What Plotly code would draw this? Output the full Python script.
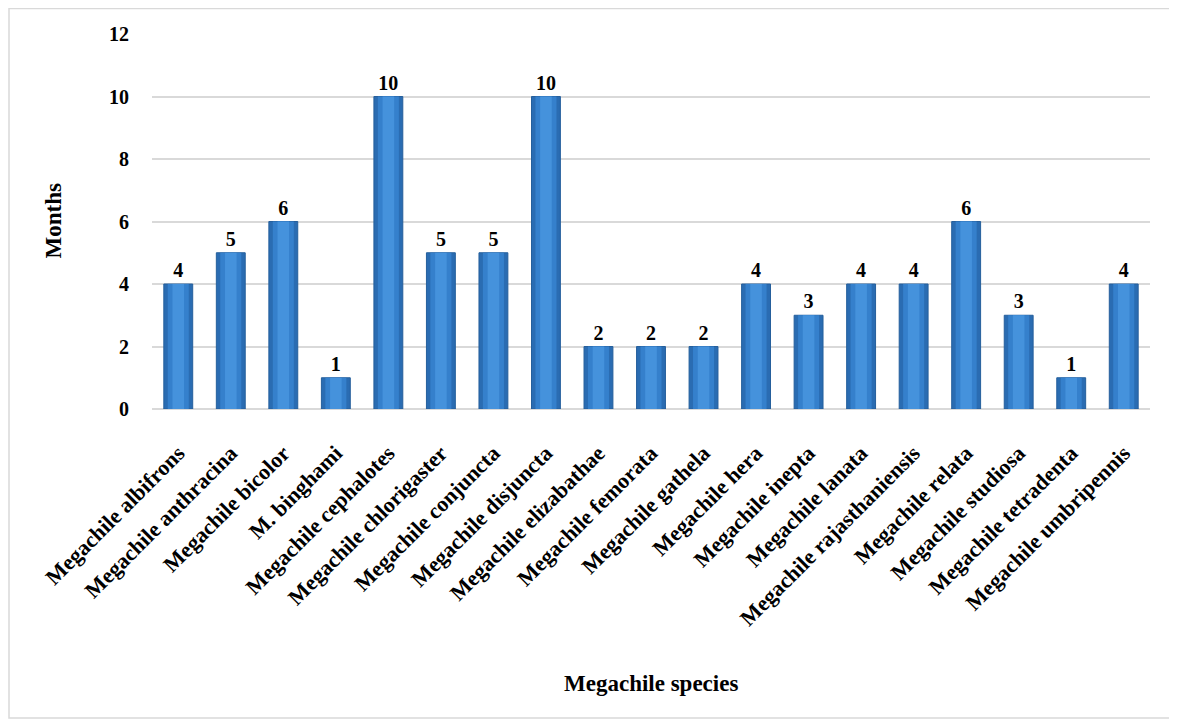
import plotly.graph_objects as go

species = ["Megachile albifrons", "Megachile anthracina", "Megachile bicolor", "M. binghami",
           "Megachile cephalotes", "Megachile chlorigaster", "Megachile conjuncta", "Megachile disjuncta",
           "Megachile elizabathae", "Megachile femorata", "Megachile gathela", "Megachile hera",
           "Megachile inepta", "Megachile lanata", "Megachile rajasthaniensis", "Megachile relata",
           "Megachile studiosa", "Megachile tetradenta", "Megachile umbripennis"]
months = [4, 5, 6, 1, 10, 5, 5, 10, 2, 2, 2, 4, 3, 4, 4, 6, 3, 1, 4]

font_family = "Liberation Serif, Times New Roman, serif"

L, R, T, B = 144, 35, 26, 323
PW, PH = 1177 - L - R, 724 - T - B

fig = go.Figure()
# base cylinder body
fig.add_trace(go.Bar(x=species, y=months, width=0.55,
                     marker=dict(color="#2a6cb2", line=dict(color="#255f9c", width=1)),
                     text=[f"<b>{v}</b>" for v in months], textposition="outside",
                     textfont=dict(family=font_family, size=20, color="#000"),
                     cliponaxis=False, hoverinfo="skip"))
# highlight layers for a cylinder look
fig.add_trace(go.Bar(x=species, y=months, width=0.40,
                     marker=dict(color="#3580cc", line=dict(width=0)), hoverinfo="skip"))
fig.add_trace(go.Bar(x=species, y=months, width=0.22,
                     marker=dict(color="#4592dc", line=dict(width=0)), hoverinfo="skip"))

fig.update_layout(
    width=1177, height=724,
    barmode="overlay",
    showlegend=False,
    plot_bgcolor="white", paper_bgcolor="white",
    margin=dict(l=L, r=R, t=T, b=B, autoexpand=False),
    font=dict(family=font_family, color="#000"),
    shapes=[dict(type="rect", xref="paper", yref="paper",
                 x0=(1 - L) / PW, x1=(1165 - L) / PW,
                 y0=((724 - B) - 710) / PH, y1=((724 - B) - 0.5) / PH,
                 line=dict(color="#d9d9d9", width=1.5))],
    annotations=[
        dict(text="<b>Megachile species</b>", xref="paper", yref="paper",
             x=(643 - L) / PW, y=((724 - B) - 675) / PH, xanchor="center", yanchor="middle",
             showarrow=False, font=dict(family=font_family, size=23, color="#000")),
        dict(text="<b>Months</b>", xref="paper", yref="paper", textangle=-90,
             x=(45 - L) / PW, y=0.5, xanchor="center", yanchor="middle",
             showarrow=False, font=dict(family=font_family, size=23, color="#000")),
    ],
)
fig.update_yaxes(range=[0, 12], dtick=2, showgrid=True, gridcolor="#d9d9d9", gridwidth=1.5,
                 zeroline=True, zerolinecolor="#d9d9d9", zerolinewidth=1.5,
                 tickfont=dict(family=font_family, size=20, color="#000"),
                 tickprefix="<b>", ticksuffix="</b>", ticklabelstandoff=22, automargin=False)
fig.update_xaxes(tickangle=-45, tickfont=dict(family=font_family, size=22, color="#000"),
                 tickprefix="<b>", ticksuffix="</b>", showline=False, ticklabelstandoff=26,
                 automargin=False)

fig.write_html("out.html")
